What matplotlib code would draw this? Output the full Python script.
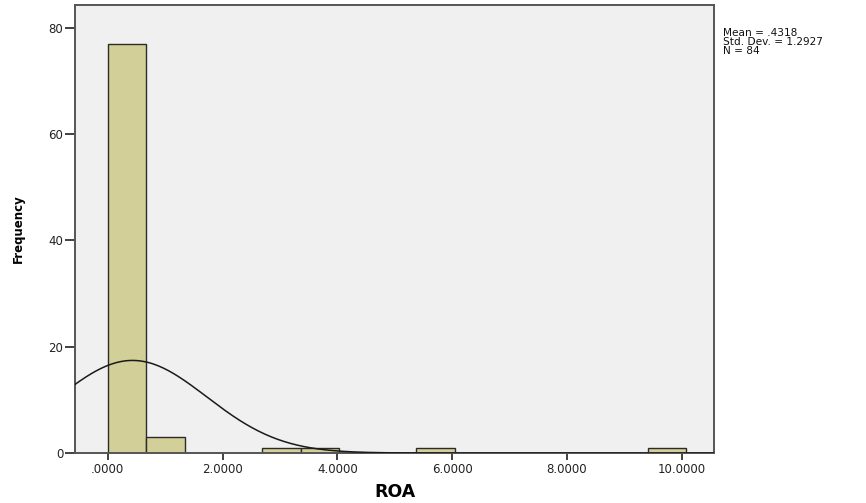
"""Histogram of ROA with a fitted normal curve (SPSS style)."""

import matplotlib

matplotlib.use("Agg")
import matplotlib.pyplot as plt
import numpy as np

# bin edges and counts
bin_edges = [0.0, 0.672, 1.344, 2.016, 2.688, 3.360, 4.032, 4.704,
             5.376, 6.048, 6.720, 7.392, 8.064, 8.736, 9.408, 10.080]
counts = [77, 3, 0, 0, 1, 1, 0, 0, 1, 0, 0, 0, 0, 0, 1]

mean = 0.4318
std = 1.2927
n = 84

x_ticks = [0, 2, 4, 6, 8, 10]
x_labels = [".0000", "2.0000", "4.0000", "6.0000", "8.0000", "10.0000"]
y_ticks = [0, 20, 40, 60, 80]

plt.rcParams["font.family"] = ["DejaVu Sans"]


def main() -> None:
    fig = plt.figure(figsize=(8.66, 5.03), dpi=100)
    ax = fig.add_axes([0.0866, 0.0994, 0.7379, 0.8906])
    ax.set_facecolor("#f0f0f0")

    lefts = np.array(bin_edges[:-1])
    widths = np.diff(bin_edges)
    ax.bar(lefts, counts, width=widths, align="edge",
           color="#d3cf98", edgecolor="#2b2b2b", lw=1.0, zorder=2)

    # normal curve scaled to counts
    bw = widths[0]
    xs = np.linspace(-0.6, 10.6, 400)
    ys = n * bw * np.exp(-0.5 * ((xs - mean) / std) ** 2) / (std * np.sqrt(2 * np.pi))
    ax.plot(xs, ys, color="#1a1a1a", lw=1.1, zorder=3)

    ax.set_xlim(-0.57, 10.56)
    ax.set_ylim(0, 84.3)
    ax.set_xticks(x_ticks)
    ax.set_xticklabels(x_labels)
    ax.set_yticks(y_ticks)
    ax.tick_params(axis="both", direction="out", width=1.3,
                   color="#333333", labelsize=8.5, labelcolor="#222222")
    ax.tick_params(axis="x", length=5, pad=2.5)
    ax.tick_params(axis="y", length=7, pad=1.5)
    for s in ax.spines.values():
        s.set_color("#555555")
        s.set_linewidth(1.4)

    ax.set_xlabel("ROA", fontsize=12.5, fontweight="bold", labelpad=5)
    ax.set_ylabel("Frequency", fontsize=8.5, fontweight="bold", labelpad=17)

    fig.text(0.835, 0.944, "Mean = .4318\nStd. Dev. = 1.2927\nN = 84",
             fontsize=7.6, va="top", ha="left", color="#111111",
             linespacing=0.86)

    fig.savefig("out.png", dpi=100)


if __name__ == "__main__":
    main()
